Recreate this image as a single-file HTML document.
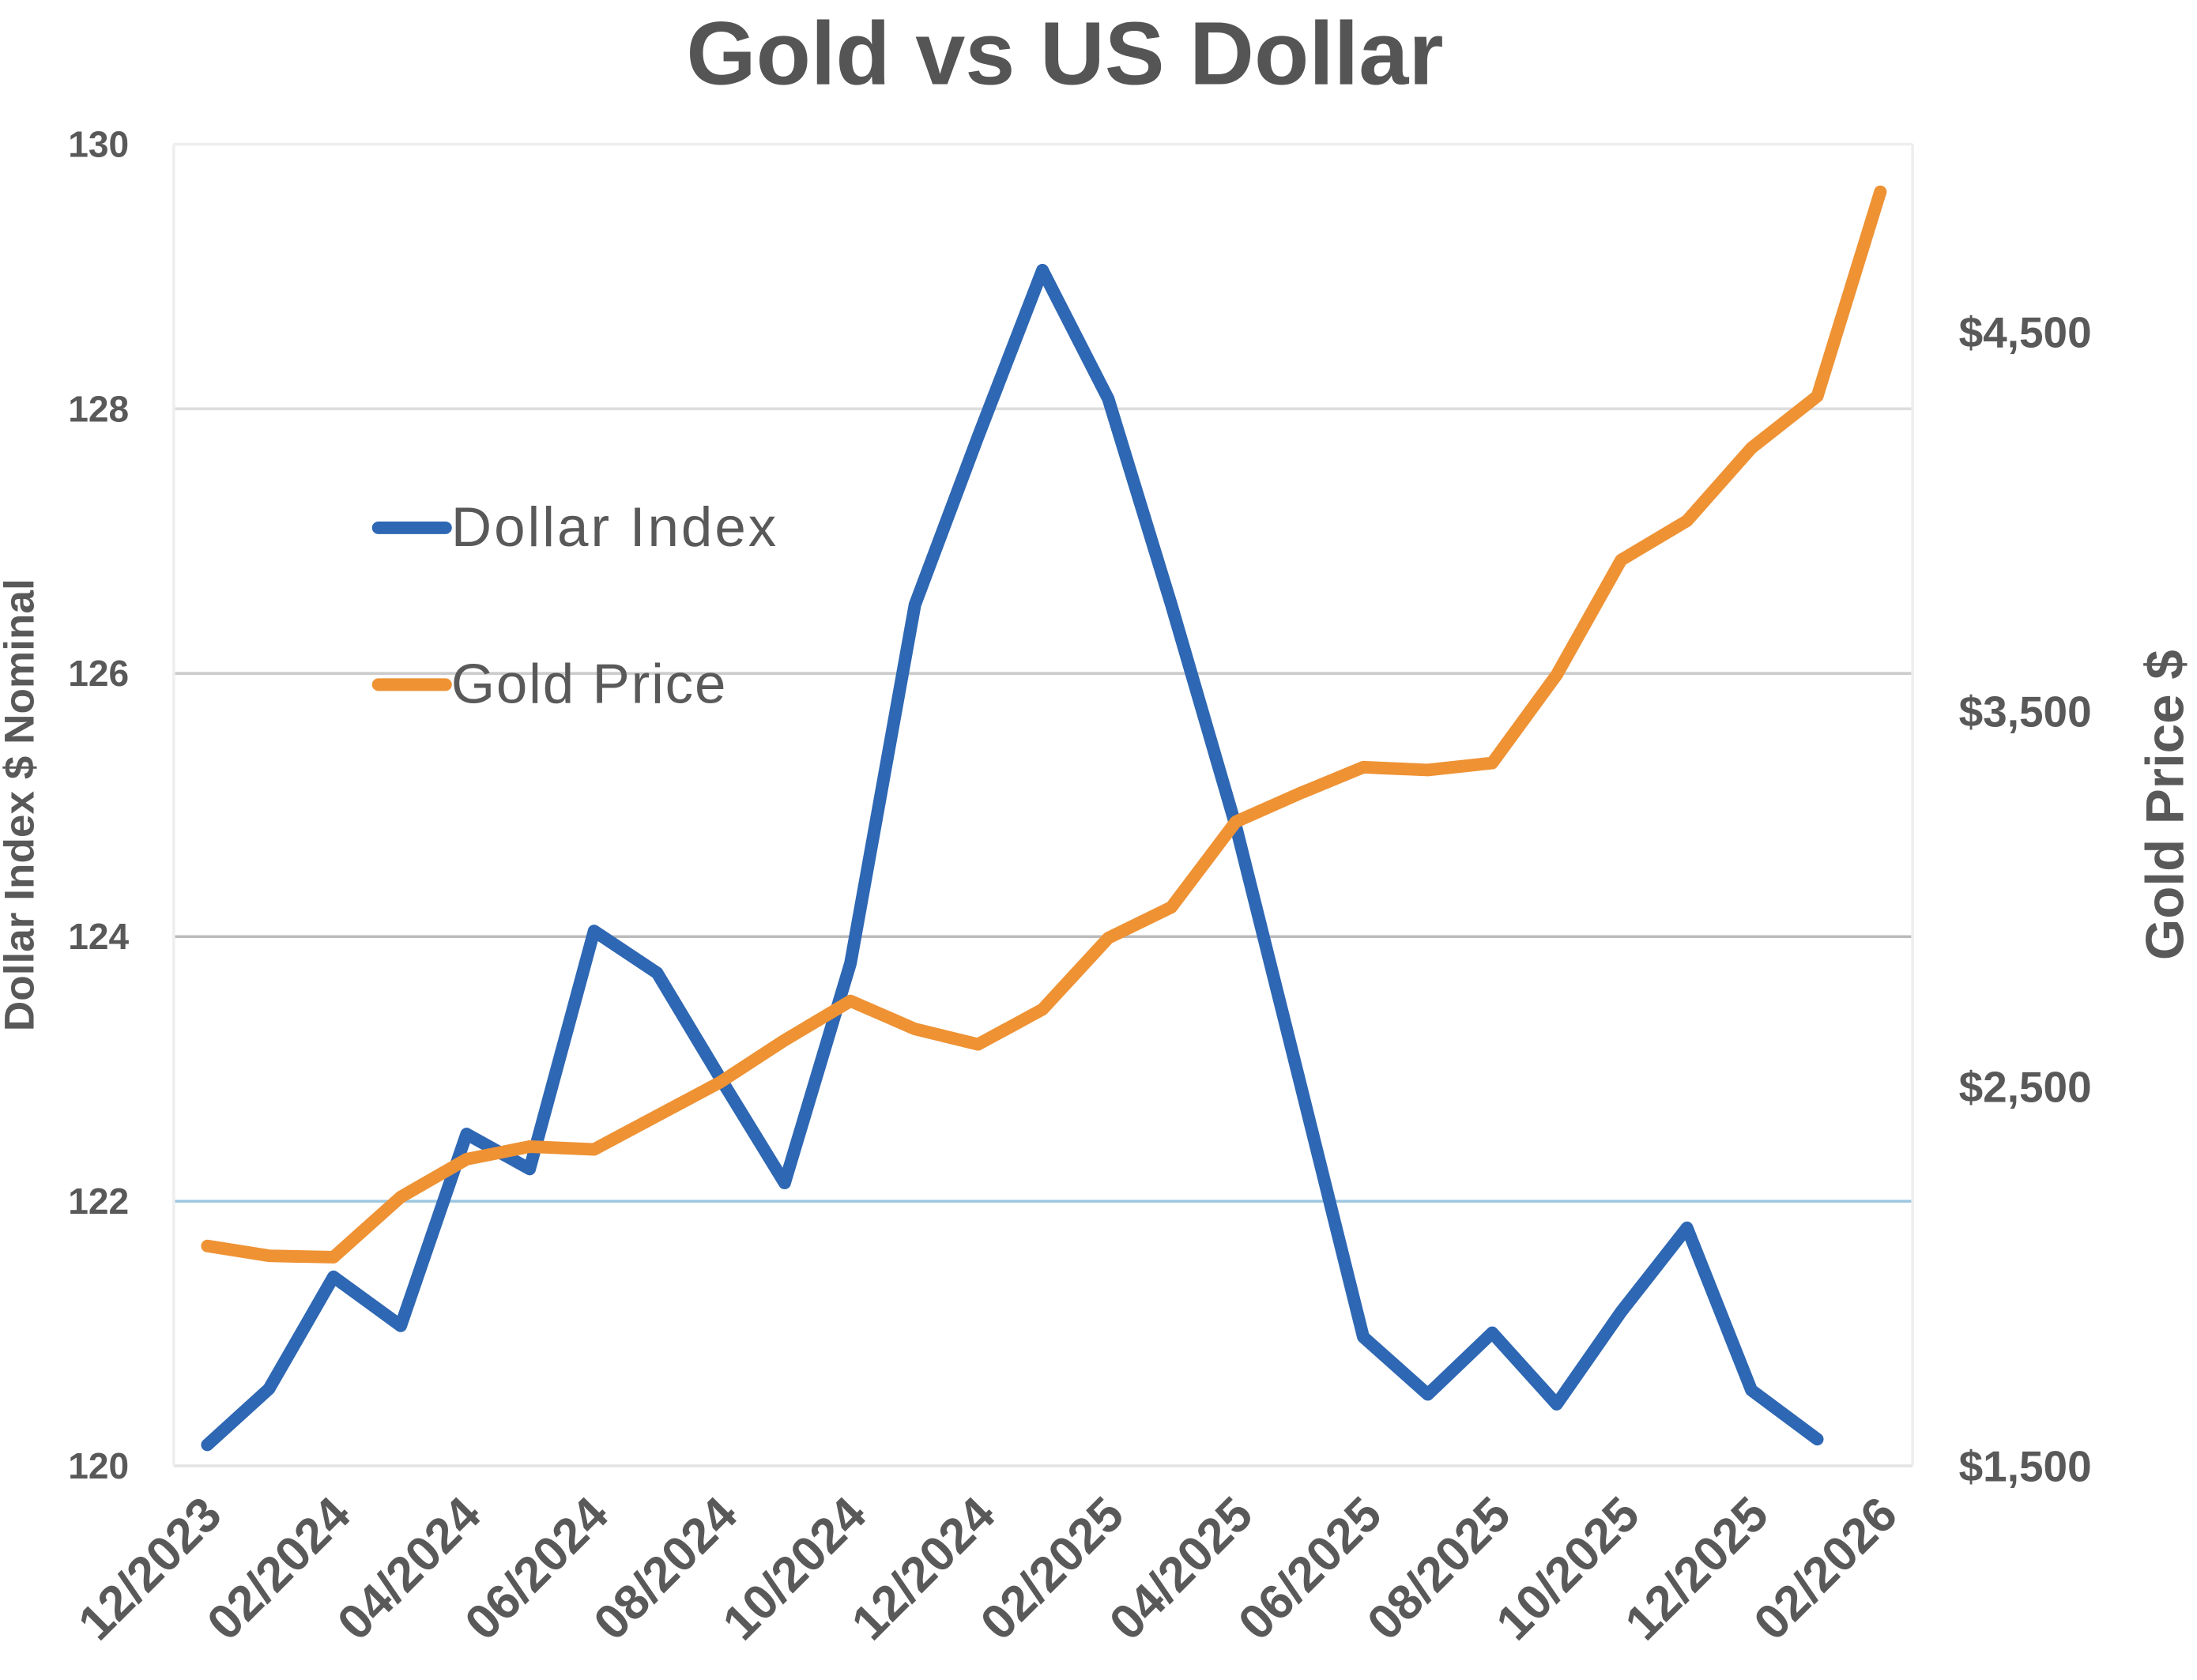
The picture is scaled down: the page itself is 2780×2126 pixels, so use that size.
<!DOCTYPE html>
<html><head><meta charset="utf-8"><style>html,body{margin:0;padding:0;background:#fff}svg{display:block}</style></head>
<body>
<svg width="2780" height="2126" viewBox="0 0 1568 1200" preserveAspectRatio="none" xmlns="http://www.w3.org/2000/svg" font-family="Liberation Sans, sans-serif">
<rect width="1568" height="1200" fill="#fff"/>
<text x="760" y="60" text-anchor="middle" font-size="64" font-weight="bold" fill="#555">Gold vs US Dollar</text>
<g stroke-width="2">
<line x1="124" x2="1365" y1="103" y2="103" stroke="#eee"/>
<line x1="124" x2="1365" y1="292" y2="292" stroke="#ddd"/>
<line x1="124" x2="1365" y1="481" y2="481" stroke="#ccc"/>
<line x1="124" x2="1365" y1="669" y2="669" stroke="#bbb"/>
<line x1="124" x2="1365" y1="858" y2="858" stroke="#9cc7e0"/>
<line x1="124" x2="1365" y1="1047" y2="1047" stroke="#e4e4e4"/>
<line x1="124" x2="124" y1="103" y2="1047" stroke="#eee"/>
<line x1="1365" x2="1365" y1="103" y2="1047" stroke="#eee"/>
</g>
<g font-size="26" font-weight="bold" fill="#595959" text-anchor="end">
<text x="92" y="112">130</text><text x="92" y="301">128</text><text x="92" y="490">126</text><text x="92" y="678">124</text><text x="92" y="867">122</text><text x="92" y="1056">120</text>
</g>
<g font-size="31" font-weight="bold" fill="#595959">
<text x="1398" y="248">$4,500</text><text x="1398" y="519">$3,500</text><text x="1398" y="787">$2,500</text><text x="1398" y="1058">$1,500</text>
</g>
<text transform="translate(24,575) rotate(-90)" text-anchor="middle" font-size="30" font-weight="bold" fill="#595959">Dollar Index $ Nominal</text>
<text transform="translate(1558,575) rotate(-90)" text-anchor="middle" font-size="38" font-weight="bold" fill="#595959">Gold Price $</text>
<g font-size="35" font-weight="bold" fill="#595959" text-anchor="end">
<text transform="translate(160,1084) rotate(-45)">12/2023</text>
<text transform="translate(252,1084) rotate(-45)">02/2024</text>
<text transform="translate(345,1084) rotate(-45)">04/2024</text>
<text transform="translate(436,1084) rotate(-45)">06/2024</text>
<text transform="translate(528,1084) rotate(-45)">08/2024</text>
<text transform="translate(620,1084) rotate(-45)">10/2024</text>
<text transform="translate(712,1084) rotate(-45)">12/2024</text>
<text transform="translate(804,1084) rotate(-45)">02/2025</text>
<text transform="translate(896,1084) rotate(-45)">04/2025</text>
<text transform="translate(988,1084) rotate(-45)">06/2025</text>
<text transform="translate(1080,1084) rotate(-45)">08/2025</text>
<text transform="translate(1172,1084) rotate(-45)">10/2025</text>
<text transform="translate(1264,1084) rotate(-45)">12/2025</text>
<text transform="translate(1356,1084) rotate(-45)">02/2026</text>
</g>
<polyline fill="none" stroke="#2e67b3" stroke-width="9" stroke-linejoin="round" stroke-linecap="round" points="148,1032 192,992 238,912 286,947 333,810 378,835 424,665 469,695 514,770 560,845 607,688 653,432 698,312 744,193 791,285 836,432 882,590 927,770 973,955 1019,996 1065,952 1111,1003 1157,937 1204,877 1250,993 1297,1028"/>
<polyline fill="none" stroke="#ee9234" stroke-width="9" stroke-linejoin="round" stroke-linecap="round" points="148,890 192,897 238,898 286,855 333,828 378,819 424,821 469,797 514,773 560,743 607,715 653,735 698,746 744,721 791,670 836,648 882,587 927,567 973,548 1019,550 1065,545 1111,482 1157,400 1204,372 1250,320 1297,283 1342,137"/>
<line x1="270" x2="318" y1="377" y2="377" stroke="#2e67b3" stroke-width="9" stroke-linecap="round"/>
<text x="322" y="390" font-size="40" fill="#595959" textLength="232">Dollar Index</text>
<line x1="270" x2="318" y1="489" y2="489" stroke="#ee9234" stroke-width="9" stroke-linecap="round"/>
<text x="322" y="502" font-size="40" fill="#595959" textLength="196">Gold Price</text>
</svg>
</body></html>
